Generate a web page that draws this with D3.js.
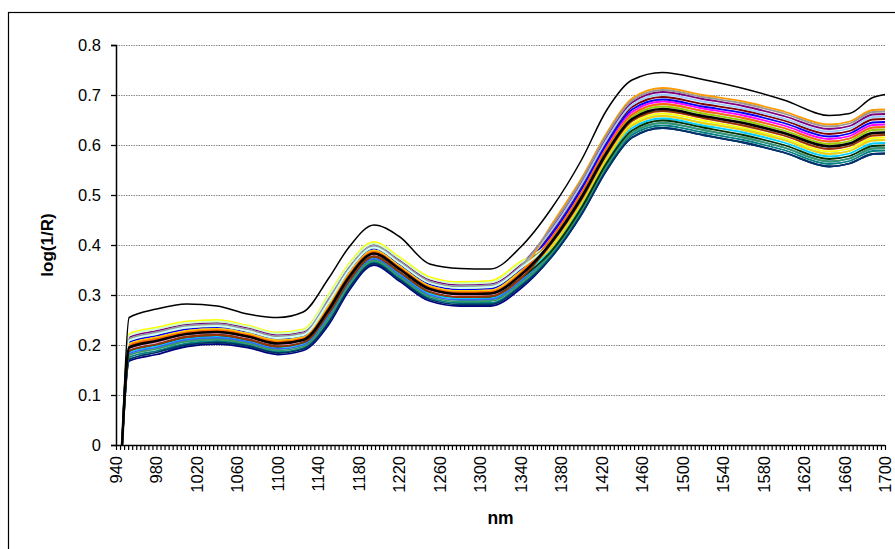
<!DOCTYPE html>
<html>
<head>
<meta charset="utf-8">
<script src="https://cdn.jsdelivr.net/npm/d3@7"></script>
<style>
  body { margin: 0; background: #fff; }
  svg { display: block; font-family: Arial, "Liberation Sans", sans-serif; }
</style>
</head>
<body>
<div id="chart-area"></div>
<script>
// wavelengths (nm) at which the spectra are read
const wavelengths = [946, 953, 980, 1010, 1040, 1070, 1100, 1125, 1150, 1170, 1195, 1220, 1250, 1280,
  1310, 1340, 1370, 1400, 1425, 1450, 1480, 1520, 1560, 1600, 1645, 1665, 1688, 1700];

// the single high spectrum above the band
const outlier = [0, 0.255, 0.272, 0.282, 0.278, 0.262, 0.255, 0.266, 0.333, 0.395, 0.44, 0.417, 0.362, 0.353,
  0.352, 0.396, 0.472, 0.57, 0.67, 0.73, 0.745, 0.731, 0.713, 0.69, 0.659, 0.663, 0.695, 0.701];

// the band of sample spectra, log(1/R)
const sNavy = [0, 0.168, 0.181, 0.197, 0.202, 0.195, 0.181, 0.189, 0.24, 0.308, 0.36, 0.328, 0.288, 0.278, 0.278, 0.313,
  0.375, 0.461, 0.55, 0.615, 0.634, 0.62, 0.605, 0.585, 0.557, 0.563, 0.582, 0.583];
const sMagenta = [0, 0.206, 0.219, 0.232, 0.235, 0.226, 0.212, 0.218, 0.282, 0.346, 0.392, 0.361, 0.321, 0.311, 0.313, 0.351,
  0.417, 0.508, 0.599, 0.666, 0.687, 0.673, 0.659, 0.639, 0.612, 0.618, 0.64, 0.641];
const sYellow = [0, 0.222, 0.235, 0.247, 0.25, 0.239, 0.225, 0.231, 0.3, 0.362, 0.406, 0.376, 0.336, 0.326, 0.328, 0.367,
  0.398, 0.487, 0.576, 0.643, 0.663, 0.649, 0.634, 0.614, 0.587, 0.593, 0.614, 0.615];
const sCyan = [0, 0.192, 0.205, 0.219, 0.223, 0.214, 0.2, 0.208, 0.267, 0.332, 0.38, 0.349, 0.309, 0.299, 0.3, 0.337,
  0.394, 0.483, 0.572, 0.639, 0.658, 0.644, 0.63, 0.61, 0.582, 0.588, 0.609, 0.61];
const sPurple = [0, 0.215, 0.228, 0.241, 0.244, 0.234, 0.22, 0.226, 0.293, 0.355, 0.4, 0.37, 0.33, 0.32, 0.322, 0.36,
  0.432, 0.525, 0.616, 0.685, 0.706, 0.692, 0.678, 0.658, 0.632, 0.638, 0.661, 0.662];
const sMaroon = [0, 0.202, 0.215, 0.228, 0.232, 0.223, 0.209, 0.215, 0.278, 0.342, 0.389, 0.358, 0.318, 0.308, 0.309, 0.347,
  0.424, 0.517, 0.607, 0.676, 0.696, 0.682, 0.669, 0.649, 0.622, 0.628, 0.651, 0.652];
const sTeal = [0, 0.175, 0.188, 0.203, 0.208, 0.2, 0.186, 0.194, 0.248, 0.315, 0.366, 0.334, 0.294, 0.284, 0.284, 0.32,
  0.379, 0.466, 0.555, 0.62, 0.639, 0.625, 0.61, 0.59, 0.562, 0.568, 0.588, 0.589];
const sBlue = [0, 0.206, 0.219, 0.232, 0.235, 0.226, 0.212, 0.218, 0.282, 0.346, 0.392, 0.361, 0.321, 0.311, 0.313, 0.351,
  0.42, 0.512, 0.603, 0.671, 0.691, 0.677, 0.664, 0.644, 0.617, 0.623, 0.645, 0.646];
const sSky = [0, 0.185, 0.198, 0.213, 0.217, 0.209, 0.195, 0.203, 0.259, 0.325, 0.375, 0.343, 0.303, 0.293, 0.294, 0.33,
  0.39, 0.478, 0.568, 0.634, 0.653, 0.639, 0.625, 0.605, 0.577, 0.583, 0.603, 0.604];
const sLightGreen = [0, 0.219, 0.232, 0.244, 0.247, 0.237, 0.223, 0.229, 0.297, 0.359, 0.403, 0.373, 0.333, 0.323, 0.325, 0.364,
  0.409, 0.5, 0.59, 0.657, 0.677, 0.663, 0.649, 0.629, 0.602, 0.608, 0.63, 0.631];
const sPaleBlue = [0, 0.212, 0.225, 0.238, 0.241, 0.231, 0.217, 0.223, 0.289, 0.352, 0.398, 0.367, 0.327, 0.317, 0.319, 0.357,
  0.428, 0.521, 0.611, 0.68, 0.701, 0.687, 0.673, 0.653, 0.627, 0.633, 0.656, 0.657];
const sRose = [0, 0.192, 0.205, 0.219, 0.223, 0.214, 0.2, 0.208, 0.267, 0.332, 0.38, 0.349, 0.309, 0.299, 0.3, 0.337,
  0.402, 0.491, 0.581, 0.648, 0.668, 0.654, 0.639, 0.619, 0.592, 0.598, 0.619, 0.62];
const sLavender = [0, 0.202, 0.215, 0.228, 0.232, 0.223, 0.209, 0.215, 0.278, 0.342, 0.389, 0.358, 0.318, 0.308, 0.309, 0.347,
  0.413, 0.504, 0.594, 0.661, 0.682, 0.668, 0.654, 0.634, 0.607, 0.613, 0.635, 0.636];
const sLightBlue = [0, 0.182, 0.195, 0.21, 0.214, 0.206, 0.192, 0.2, 0.255, 0.322, 0.372, 0.34, 0.3, 0.29, 0.291, 0.327,
  0.383, 0.47, 0.559, 0.624, 0.644, 0.63, 0.615, 0.595, 0.567, 0.573, 0.593, 0.594];
const sLime = [0, 0.209, 0.222, 0.235, 0.238, 0.228, 0.214, 0.22, 0.285, 0.349, 0.395, 0.364, 0.324, 0.314, 0.316, 0.354,
  0.409, 0.5, 0.59, 0.657, 0.677, 0.663, 0.649, 0.629, 0.602, 0.608, 0.63, 0.631];
const sGold = [0, 0.202, 0.215, 0.228, 0.232, 0.223, 0.209, 0.215, 0.278, 0.342, 0.389, 0.358, 0.318, 0.308, 0.309, 0.347,
  0.394, 0.483, 0.572, 0.639, 0.658, 0.644, 0.63, 0.61, 0.582, 0.588, 0.609, 0.61];
const sLightOrange = [0, 0.199, 0.212, 0.225, 0.229, 0.22, 0.206, 0.213, 0.274, 0.339, 0.386, 0.355, 0.315, 0.305, 0.306, 0.344,
  0.439, 0.533, 0.624, 0.693, 0.714, 0.7, 0.687, 0.667, 0.641, 0.647, 0.67, 0.671];
const sOrange = [0, 0.199, 0.212, 0.225, 0.229, 0.22, 0.206, 0.213, 0.274, 0.339, 0.386, 0.355, 0.315, 0.305, 0.306, 0.344,
  0.413, 0.504, 0.594, 0.661, 0.682, 0.668, 0.654, 0.634, 0.607, 0.613, 0.635, 0.636];
const sGray = [0, 0.212, 0.225, 0.238, 0.241, 0.231, 0.217, 0.223, 0.289, 0.352, 0.398, 0.367, 0.327, 0.317, 0.319, 0.357,
  0.435, 0.529, 0.62, 0.689, 0.71, 0.696, 0.683, 0.663, 0.637, 0.643, 0.666, 0.667];
const sDarkTeal = [0, 0.171, 0.185, 0.2, 0.205, 0.198, 0.184, 0.192, 0.244, 0.312, 0.363, 0.331, 0.291, 0.281, 0.281, 0.317,
  0.375, 0.461, 0.55, 0.615, 0.634, 0.62, 0.605, 0.585, 0.557, 0.563, 0.582, 0.583];
const sSeaGreen = [0, 0.179, 0.192, 0.207, 0.211, 0.203, 0.189, 0.197, 0.252, 0.319, 0.369, 0.337, 0.297, 0.287, 0.288, 0.324,
  0.383, 0.47, 0.559, 0.624, 0.644, 0.63, 0.615, 0.595, 0.567, 0.573, 0.593, 0.594];
const sDarkGreen = [0, 0.188, 0.201, 0.216, 0.22, 0.211, 0.197, 0.205, 0.263, 0.328, 0.377, 0.346, 0.306, 0.296, 0.297, 0.333,
  0.387, 0.474, 0.564, 0.629, 0.649, 0.635, 0.62, 0.6, 0.572, 0.578, 0.598, 0.599];
const sPaleTurquoise = [0, 0.209, 0.222, 0.235, 0.238, 0.228, 0.214, 0.22, 0.285, 0.349, 0.395, 0.364, 0.324, 0.314, 0.316, 0.354,
  0.405, 0.495, 0.585, 0.652, 0.672, 0.658, 0.644, 0.624, 0.597, 0.603, 0.624, 0.625];
const sBrown = [0, 0.188, 0.201, 0.216, 0.22, 0.211, 0.197, 0.205, 0.263, 0.328, 0.377, 0.346, 0.306, 0.296, 0.297, 0.333,
  0.402, 0.491, 0.581, 0.648, 0.668, 0.654, 0.639, 0.619, 0.592, 0.598, 0.619, 0.62];
const sBlack = [0, 0.195, 0.208, 0.222, 0.226, 0.217, 0.203, 0.21, 0.27, 0.335, 0.383, 0.352, 0.312, 0.302, 0.303, 0.34,
  0.405, 0.495, 0.585, 0.652, 0.672, 0.658, 0.644, 0.624, 0.597, 0.603, 0.624, 0.625];

// drawing order = Excel series order, later ones on top
const bandSeries = [sNavy, sMagenta, sYellow, sCyan, sPurple, sMaroon, sTeal, sBlue, sSky, sLightGreen,
  sPaleBlue, sRose, sLavender, sLightBlue, sLime, sGold, sLightOrange, sOrange, sGray, sDarkTeal,
  sSeaGreen, sDarkGreen, sPaleTurquoise, sBrown];
const bandColors = ["#000080", "#FF00FF", "#FFFF00", "#00FFFF", "#800080", "#800000", "#008080", "#0000FF",
  "#00CCFF", "#CCFFCC", "#99CCFF", "#FF99CC", "#CC99FF", "#3366FF", "#99CC00", "#FFCC00", "#FF9900",
  "#FF6600", "#969696", "#003366", "#339966", "#003300", "#CCFFFF", "#993300"];

const yTicks = [0, 0.1, 0.2, 0.3, 0.4, 0.5, 0.6, 0.7, 0.8];
const xLabels = d3.range(940, 1701, 40);
const xMinor = d3.range(940, 1701, 4);

const width = 895, height = 549;
const plotLeft = 116, plotRight = 885, plotTop = 45, plotBottom = 445;

const svg = d3.select("#chart-area").append("svg")
  .attr("width", width)
  .attr("height", height);

svg.append("rect").attr("width", width).attr("height", height).attr("fill", "#fff");

// outer chart frame (runs off the right and bottom edge)
svg.append("rect")
  .attr("x", 8.5).attr("y", 12.5)
  .attr("width", 920).attr("height", 600)
  .attr("fill", "none").attr("stroke", "#000").attr("stroke-width", 1.2);

const x = d3.scaleLinear().domain([940, 1700]).range([plotLeft, plotRight]);
const y = d3.scaleLinear().domain([0, 0.8]).range([plotBottom, plotTop]);

// gridlines
svg.append("g")
  .selectAll("line")
  .data(yTicks.filter(d => d > 0))
  .join("line")
  .attr("x1", plotLeft).attr("x2", plotRight)
  .attr("y1", d => Math.round(y(d)) + 0.5).attr("y2", d => Math.round(y(d)) + 0.5)
  .attr("stroke", "#8a8a8a")
  .attr("stroke-width", 1)
  .attr("stroke-dasharray", "1.5,1");

// y axis
const yAxis = svg.append("g")
  .attr("transform", `translate(${plotLeft},0)`)
  .call(d3.axisLeft(y).tickValues(yTicks).tickSize(5).tickPadding(10)
    .tickFormat(d => d === 0 ? "0" : d3.format(".1f")(d)));
yAxis.select(".domain").attr("stroke-width", 1.5);
yAxis.selectAll(".tick line").attr("stroke-width", 1.3);
yAxis.selectAll("text").style("font-size", "16.5px").attr("fill", "#000");

// x axis: small ticks every 4 nm, labels every 40 nm
const xAxis = svg.append("g")
  .attr("transform", `translate(0,${plotBottom})`)
  .call(d3.axisBottom(x).tickValues(xMinor).tickSize(5).tickFormat(""));
xAxis.select(".domain").attr("stroke-width", 1.5).attr("d", `M${plotLeft},0.5H${plotRight}`);
xAxis.selectAll(".tick line").attr("stroke-width", 1.2);

svg.append("g")
  .selectAll("text")
  .data(xLabels)
  .join("text")
  .attr("transform", d => `translate(${x(d)},456) rotate(-90)`)
  .attr("text-anchor", "end")
  .attr("dominant-baseline", "central")
  .style("font-size", "16.5px")
  .text(d => d);

// axis titles
svg.append("text")
  .attr("transform", `translate(47,${(plotTop + plotBottom) / 2}) rotate(-90)`)
  .attr("text-anchor", "middle")
  .attr("dominant-baseline", "central")
  .style("font-size", "17px")
  .style("font-weight", "bold")
  .text("log(1/R)");

svg.append("text")
  .attr("x", (plotLeft + plotRight) / 2)
  .attr("y", 518)
  .attr("text-anchor", "middle")
  .attr("dominant-baseline", "central")
  .style("font-size", "17.5px")
  .style("font-weight", "bold")
  .text("nm");

// spectra
const line = d3.line()
  .x((d, i) => x(wavelengths[i]))
  .y(d => y(d))
  .curve(d3.curveMonotoneX);

svg.append("g")
  .selectAll("path")
  .data(bandSeries)
  .join("path")
  .attr("d", line)
  .attr("fill", "none")
  .attr("stroke", (d, i) => bandColors[i])
  .attr("stroke-width", 1.8);

svg.append("path")
  .attr("d", line(sBlack))
  .attr("fill", "none")
  .attr("stroke", "#000")
  .attr("stroke-width", 2.6);

svg.append("path")
  .attr("d", line(outlier))
  .attr("fill", "none")
  .attr("stroke", "#000")
  .attr("stroke-width", 1.5);
</script>
</body>
</html>
